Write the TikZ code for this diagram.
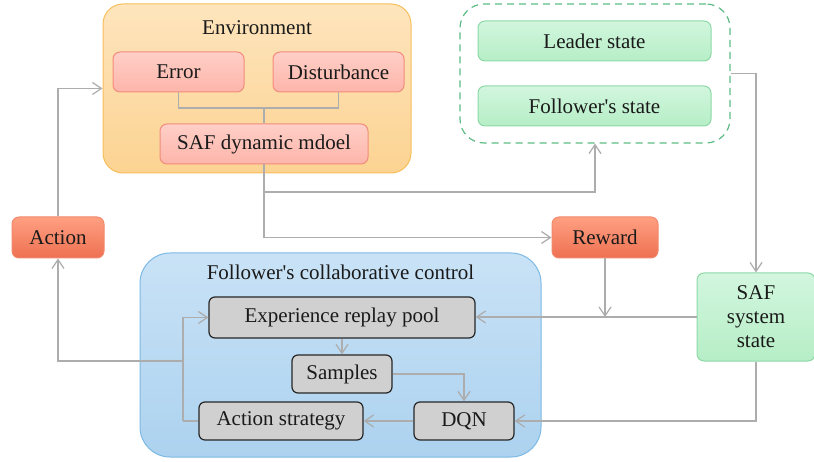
\documentclass[tikz,border=0pt]{standalone}
\usepackage{fontspec}
\setmainfont{Liberation Serif}[Ligatures=TeXOff]
\usetikzlibrary{arrows.meta}
\definecolor{envfillT}{HTML}{FEE5BD}
\definecolor{envfillB}{HTML}{FCD392}
\definecolor{envdraw}{HTML}{F7BE5C}
\definecolor{redT}{HTML}{FFCFC7}
\definecolor{redB}{HTML}{FDB5AA}
\definecolor{reddraw}{HTML}{F28C7C}
\definecolor{hotT}{HTML}{FFA081}
\definecolor{hotB}{HTML}{EE7052}
\definecolor{hotdraw}{HTML}{F2896C}
\definecolor{grnT}{HTML}{D2F6DE}
\definecolor{grnB}{HTML}{B6EEC6}
\definecolor{grndraw}{HTML}{8CD9A6}
\definecolor{dashgrn}{HTML}{5DBB84}
\definecolor{bluT}{HTML}{C9E2F6}
\definecolor{bluB}{HTML}{ACD2EF}
\definecolor{bludraw}{HTML}{7DB9E3}
\definecolor{grayfill}{HTML}{D0D0D0}
\definecolor{arr}{HTML}{ADADAD}
\definecolor{txt}{HTML}{1A1A1A}
\tikzset{
  every node/.style={font=\fontsize{21}{24}\selectfont, text=txt, inner sep=0pt},
  bigbox/.style={draw=envdraw, line width=1pt, rounded corners=20pt, top color=envfillT, bottom color=envfillB},
  redbox/.style={draw=reddraw, line width=1pt, rounded corners=7pt, top color=redT, bottom color=redB},
  hotbox/.style={draw=hotdraw, line width=1pt, rounded corners=7pt, top color=hotT, bottom color=hotB},
  grnbox/.style={draw=grndraw, line width=1pt, rounded corners=7pt, top color=grnT, bottom color=grnB},
  grybox/.style={draw=black!85, line width=1.2pt, rounded corners=6pt, fill=grayfill},
  conn/.style={draw=arr, line width=1.2pt},
  arrw/.style={conn, -{Straight Barb[length=9pt,width=12pt,line width=1.2pt]}},
}
\begin{document}
\begin{tikzpicture}[x=1pt,y=-1pt]
\useasboundingbox (0,0) rectangle (814,462);
% containers
\node[bigbox, minimum width=308pt, minimum height=169pt] (env) at (257,88.5) {};
\node (envt) at (257,28) {Environment};
\node[draw=dashgrn, line width=1.2pt, dash pattern=on 7pt off 5pt, rounded corners=24pt, minimum width=270pt, minimum height=139pt] (dash) at (595,73.5) {};
\node[draw=bludraw, line width=1pt, rounded corners=30pt, top color=bluT, bottom color=bluB, minimum width=401pt, minimum height=204pt] (blue) at (340.5,355) {};
\node (bluet) at (340.5,272) {Follower's collaborative control};
% boxes
\node[redbox, minimum width=131pt, minimum height=40pt] (err) at (178.5,72) {Error};
\node[redbox, minimum width=131pt, minimum height=40pt] (dist) at (338.5,72) {Disturbance};
\node[redbox, minimum width=208pt, minimum height=40pt] (saf) at (264,144) {SAF dynamic mdoel};
\node[grnbox, minimum width=233pt, minimum height=40pt] (lead) at (594.5,41) {Leader state};
\node[grnbox, minimum width=233pt, minimum height=40pt] (foll) at (594.5,106) {Follower's state};
\node[hotbox, minimum width=106pt, minimum height=41pt] (rew) at (605,237.5) {Reward};
\node[hotbox, minimum width=92pt, minimum height=41pt] (act) at (58,237.5) {Action};
\node[grnbox, minimum width=118pt, minimum height=88pt, align=center] (sss) at (756,317) {SAF\\system\\state};
\node[grybox, minimum width=266pt, minimum height=41pt] (exp) at (342,317.5) {Experience replay pool};
\node[grybox, minimum width=100pt, minimum height=38pt] (smp) at (342,374) {Samples};
\node[grybox, minimum width=164pt, minimum height=38pt] (as) at (281,421) {Action strategy};
\node[grybox, minimum width=100pt, minimum height=38pt] (dqn) at (464,421) {DQN};
% junctions
\coordinate (j1) at (264,108);
\coordinate (j2) at (264,192);
\coordinate (j3) at (183,421);
\coordinate (j4) at (183,361);
% connectors
\draw[conn] (err.south) |- (j1) -| (dist.south);
\draw[conn] (j1) -- (saf.north);
\draw[conn] (saf.south) -- (j2);
\draw[arrw] (j2) -| (dash.south);
\draw[arrw] (j2) |- (rew.west);
\draw[arrw] (dash.east) -| (sss.north);
\draw[arrw] (sss.west) -- (sss.west -| exp.east);
\draw[arrw] (rew.south) -- (rew.south |- sss.west);
\draw[arrw] (sss.south) |- (dqn.east);
\draw[arrw] (exp.south) -- (smp.north);
\draw[arrw] (smp.east) -| (dqn.north);
\draw[arrw] (dqn.west) -- (as.east);
\draw[conn] (as.west) -- (j3);
\draw[arrw] (j3) |- (exp.west);
\draw[arrw] (j4) -| (act.south);
\draw[arrw] (act.north) |- (env.west);
\end{tikzpicture}
\end{document}
